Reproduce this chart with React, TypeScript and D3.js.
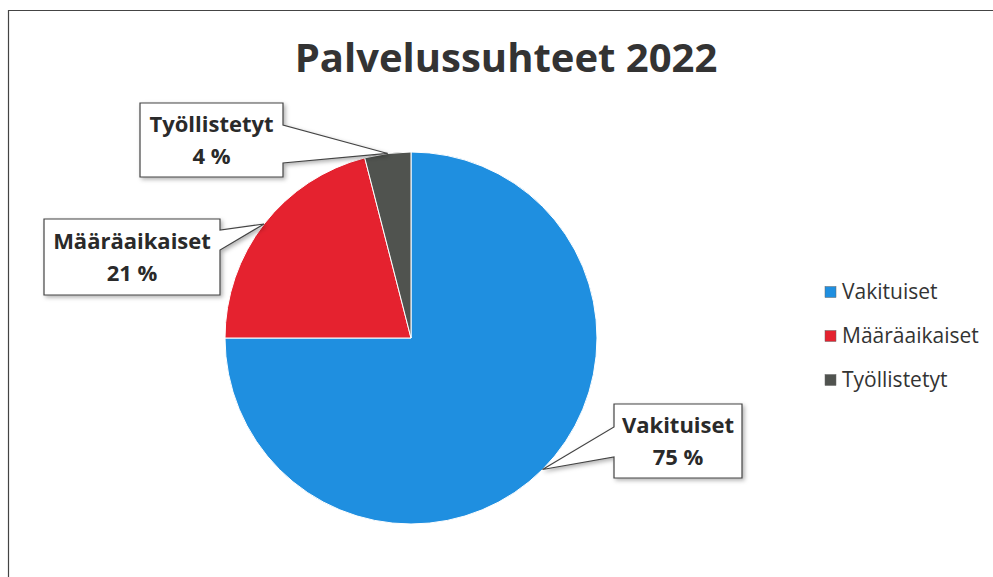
import * as d3 from 'd3'

const categories = ['Vakituiset', 'Määräaikaiset', 'Työllistetyt']
const values = [75, 21, 4]
const colors = ['#1f8fe0', '#e5222f', '#50534f']
const title = 'Palvelussuhteet 2022'

// callout boxes for the data labels (layout only)
const callouts = [
  { x: 614, y: 404, w: 128, h: 74, side: 'left', b0: 23, b1: 53 },
  { x: 44, y: 219, w: 176, h: 76, side: 'right', b0: 11, b1: 31 },
  { x: 140, y: 103, w: 143, h: 74, side: 'right', b0: 22, b1: 60 },
]

const W = 993
const H = 577
const cx = 411
const cy = 338
const radius = 186
const font = '"Open Sans", sans-serif'

export default function App() {
  const pie = d3
    .pie<number>()
    .sort(null)
    .value(d => d)
  const arcs = pie(values)
  const arc = d3.arc<d3.PieArcDatum<number>>().innerRadius(0).outerRadius(radius)
  const total = d3.sum(values)

  const calloutPath = (i: number) => {
    const c = callouts[i]
    const a = arcs[i]
    const mid = (a.startAngle + a.endAngle) / 2
    const tx = cx + radius * Math.sin(mid)
    const ty = cy - radius * Math.cos(mid)
    const p = d3.path()
    p.moveTo(c.x, c.y)
    p.lineTo(c.x + c.w, c.y)
    if (c.side === 'right') {
      p.lineTo(c.x + c.w, c.y + c.b0)
      p.lineTo(tx, ty)
      p.lineTo(c.x + c.w, c.y + c.b1)
    }
    p.lineTo(c.x + c.w, c.y + c.h)
    p.lineTo(c.x, c.y + c.h)
    if (c.side === 'left') {
      p.lineTo(c.x, c.y + c.b1)
      p.lineTo(tx, ty)
      p.lineTo(c.x, c.y + c.b0)
    }
    p.closePath()
    return p.toString()
  }

  return (
    <svg
      width={W}
      height={H}
      style={{ position: 'absolute', left: 0, top: 0, background: '#fff' }}
    >
      <defs>
        <filter id="shadow" x="-20%" y="-20%" width="140%" height="140%">
          <feDropShadow dx="2" dy="2" stdDeviation="2" floodColor="#000" floodOpacity="0.3" />
        </filter>
      </defs>
      <rect x={0} y={0} width={W} height={H} fill="#fff" />
      <path d={`M8.5,${H}V10.5H${W}`} fill="none" stroke="#444" strokeWidth={1.2} />

      <text
        x={506}
        y={72}
        textAnchor="middle"
        fontFamily={font}
        fontWeight="bold"
        fontSize={40}
        fill="#333"
      >
        {title}
      </text>

      <g transform={`translate(${cx},${cy})`}>
        {arcs.map((a, i) => (
          <path key={i} d={arc(a) ?? ''} fill={colors[i]} stroke="#fff" strokeWidth={1} />
        ))}
      </g>

      {callouts.map((c, i) => (
        <g key={i}>
          <path
            d={calloutPath(i)}
            fill="#fff"
            stroke="#444"
            strokeWidth={1.2}
            filter="url(#shadow)"
          />
          <text
            x={c.x + c.w / 2}
            y={c.y + c.h / 2 - 8}
            textAnchor="middle"
            fontFamily={font}
            fontWeight="bold"
            fontSize={22}
            fill="#2a2a2a"
          >
            {categories[i]}
          </text>
          <text
            x={c.x + c.w / 2}
            y={c.y + c.h / 2 + 24}
            textAnchor="middle"
            fontFamily={font}
            fontWeight="bold"
            fontSize={22}
            fill="#2a2a2a"
          >
            {`${Math.round((values[i] / total) * 100)} %`}
          </text>
        </g>
      ))}

      <g transform="translate(825,292)">
        {categories.map((name, i) => (
          <g key={name} transform={`translate(0,${i * 44})`}>
            <rect x={0} y={-5.5} width={11} height={11} fill={colors[i]} stroke="#666" strokeWidth={0.5} />
            <text x={17} y={7} fontFamily={font} fontSize={21} fill="#333">
              {name}
            </text>
          </g>
        ))}
      </g>
    </svg>
  )
}
